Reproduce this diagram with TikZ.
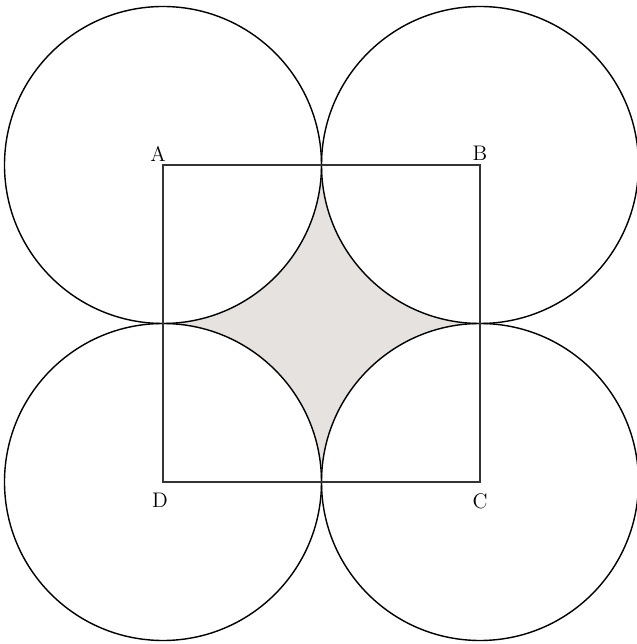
\documentclass[tikz,border=0pt]{standalone}
\usepackage{tikz}
\usetikzlibrary{positioning}

\definecolor{shadegray}{RGB}{230,226,224}

\begin{document}
\begin{tikzpicture}[
  ring/.style={draw,line width=0.8pt},
  side/.style={draw,line width=0.9pt,black!80},
  vertex/.style={font=\large,inner sep=0pt}
]
  \useasboundingbox (-3.26,-3.24) rectangle (9.48,9.64);
  \def\r{3.17}

  \coordinate (D) at (0,0);
  \coordinate (C) at (6.34,0);
  \coordinate (B) at (6.34,6.34);
  \coordinate (A) at (0,6.34);

  % region left over between the circles
  \fill[shadegray] (3.17,6.34)
    arc[start angle=0,end angle=-90,radius=\r]
    arc[start angle=90,end angle=0,radius=\r]
    arc[start angle=180,end angle=90,radius=\r]
    arc[start angle=-90,end angle=-180,radius=\r] -- cycle;

  \foreach \c in {A,B,C,D}
    \draw[ring] (\c) circle[radius=\r];

  \path[side] (A) -- (B) -- (C) -- (D) -- cycle;

  \node[vertex] (lA) at ([shift={(-0.1,0.23)}]A) {A};
  \node[vertex] (lB) at ([shift={(0,0.23)}]B) {B};
  \node[vertex] (lC) at ([shift={(0,-0.38)}]C) {C};
  \node[vertex] (lD) at ([shift={(-0.06,-0.37)}]D) {D};
\end{tikzpicture}
\end{document}
